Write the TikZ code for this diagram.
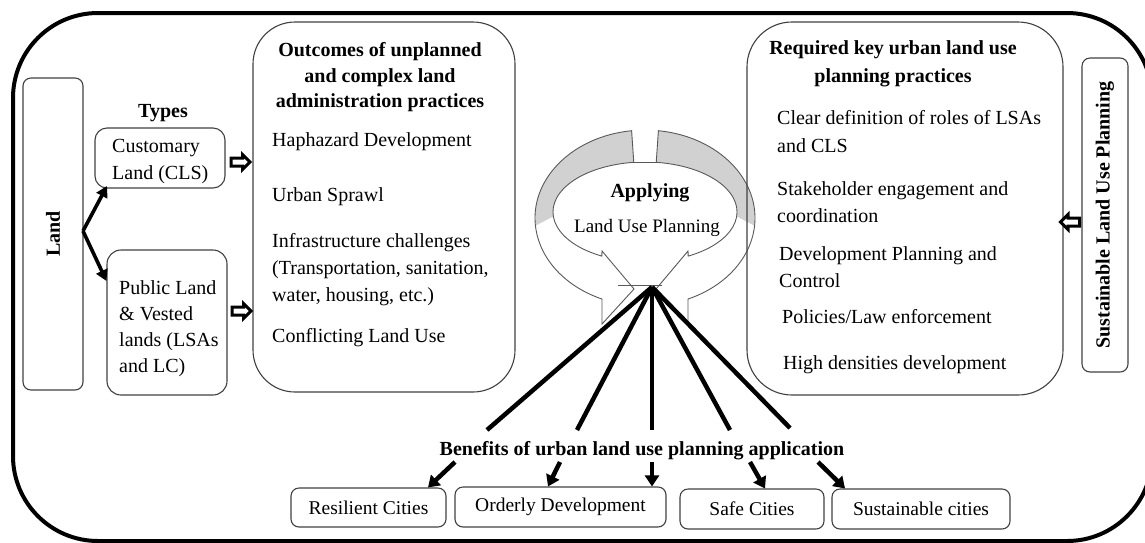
\documentclass[tikz,border=0pt]{standalone}
\usepackage{fontspec}
\setmainfont{Liberation Serif}
\usetikzlibrary{arrows.meta,shapes.arrows,calc}
\definecolor{edge}{gray}{0.25}
\definecolor{ringline}{gray}{0.35}
\definecolor{ringgray}{gray}{0.82}
\begin{document}
\begin{tikzpicture}[x=1pt,y=-1pt,
  rbox/.style={draw=edge, line width=1.1pt, rounded corners=#1, inner sep=0pt},
  rbox/.default=10pt,
  body/.style={font=\fontsize{20}{27}\selectfont, inner sep=0pt, align=left, anchor=west},
  cell/.style={font=\fontsize{19.5}{24}\selectfont, inner sep=0pt},
  head/.style={font=\bfseries\fontsize{20}{25.5}\selectfont, inner sep=0pt, align=center},
  hollow/.style={single arrow, draw=black, fill=white, line width=3pt,
    inner xsep=0pt, inner ysep=2.5pt, minimum height=19pt, minimum width=12pt,
    single arrow head extend=3.5pt},
  thickarrow/.style={line width=3.6pt, -{Triangle[length=11pt,width=12pt]}},
  spoke/.style={line width=4.5pt},
  benefit/.style={line width=4.5pt, -{Triangle[length=11pt,width=14pt]}},
  ringedge/.style={draw=ringline, line width=0.9pt, line join=miter},
]
\useasboundingbox (0,0) rectangle (1145,542);
\clip (0,0) rectangle (1145,542);

% outer frame
\draw[line width=4pt, rounded corners=85pt] (13,13) rectangle (1152,541);

% ---------------- left column ----------------
\node[rbox=8pt, minimum width=60pt, minimum height=312pt] (land) at (53,234) {};
\node[head, rotate=90] (landtxt) at (land.center) {Land};

\node[head] (types) at (163,113) {Types};

\node[rbox=12pt, minimum width=130pt, minimum height=60pt] (cls) at (160,158) {};
\node[body] (clstxt) at (112,162) {Customary\\Land (CLS)};

\node[rbox=14pt, minimum width=120pt, minimum height=145pt] (pub) at (167,322.5) {};
\node[body, font=\fontsize{20}{26}\selectfont] (pubtxt) at (119,329) {Public Land\\\& Vested\\lands (LSAs\\and LC)};

\coordinate (fork) at (83,231);
\draw[thickarrow] (fork) -- (107,186);
\draw[thickarrow] (fork) -- (pub.west |- 0,281);

% ---------------- outcomes ----------------
\node[rbox=42pt, minimum width=262pt, minimum height=370pt] (out) at (384,207) {};
\node[head] (outhead) at (380,77.5) {Outcomes of unplanned\\and complex land\\administration practices};
\node[body] (o1) at (272,142) {Haphazard Development};
\node[body] (o2) at (272,197) {Urban Sprawl};
\node[body] (o3) at (272,270) {Infrastructure challenges\\(Transportation, sanitation,\\water, housing, etc.)};
\node[body] (o4) at (272,338) {Conflicting Land Use};

\node[hollow] (h1) at (238.5,162) {};
\node[hollow] (h2) at (239.5,311) {};

% ---------------- central cycle ----------------
\begin{scope}
  \path[fill=white] (631.6,130.7) arc[start angle=263, end angle=113, x radius=110, y radius=88]
    -- (602,324) -- (634,289) -- (602,251) -- (601.8,256.1)
    arc[start angle=118, end angle=263, x radius=92, y radius=50] -- cycle;
  \fill[ringgray] (631.6,130.7) arc[start angle=263, end angle=175, x radius=110, y radius=88]
    -- (553.3,216.4) arc[start angle=175, end angle=263, x radius=92, y radius=50] -- cycle;
  \draw[ringedge] (631.6,130.7) arc[start angle=263, end angle=113, x radius=110, y radius=88]
    -- (602,324) -- (634,289) -- (602,251) -- (601.8,256.1)
    arc[start angle=118, end angle=263, x radius=92, y radius=50] -- cycle;
\end{scope}
\begin{scope}[xshift=1290pt, xscale=-1]
  \path[fill=white] (631.6,130.7) arc[start angle=263, end angle=113, x radius=110, y radius=88]
    -- (602,324) -- (634,289) -- (602,251) -- (601.8,256.1)
    arc[start angle=118, end angle=263, x radius=92, y radius=50] -- cycle;
  \fill[ringgray] (631.6,130.7) arc[start angle=263, end angle=175, x radius=110, y radius=88]
    -- (553.3,216.4) arc[start angle=175, end angle=263, x radius=92, y radius=50] -- cycle;
  \draw[ringedge] (631.6,130.7) arc[start angle=263, end angle=113, x radius=110, y radius=88]
    -- (602,324) -- (634,289) -- (602,251) -- (601.8,256.1)
    arc[start angle=118, end angle=263, x radius=92, y radius=50] -- cycle;
\end{scope}
\draw[ringedge] (633.8,162.4) -- (656.2,162.4);
\draw[ringedge] (618,285) -- (662,285);

\node[head] (apply) at (650,193) {Applying};
\node[cell, font=\fontsize{19}{24}\selectfont] (lup) at (647,228) {Land Use Planning};

% ---------------- spokes and benefits ----------------
\coordinate (hub) at (652,287);
\coordinate (f1) at (487,430);
\coordinate (f2) at (577,430);
\coordinate (f3) at (652,430);
\coordinate (f4) at (730,430);
\coordinate (f5) at (790,428);
\foreach \f in {f1,f2,f3,f4,f5} \draw[spoke] (hub) -- (\f);

\node[head] (ben) at (642,451) {Benefits of urban land use planning application};

\node[rbox=8pt, minimum width=155pt, minimum height=39pt] (res) at (368.5,507.5) {};
\node[cell] (restxt) at (res.center) {Resilient Cities};
\node[rbox=8pt, minimum width=211pt, minimum height=40pt] (ord) at (560.5,507) {};
\node[cell] (ordtxt) at (ord.center) {Orderly Development};
\node[rbox=8pt, minimum width=144pt, minimum height=40pt] (safe) at (752,509) {};
\node[cell] (safetxt) at (safe.center) {Safe Cities};
\node[rbox=8pt, minimum width=178pt, minimum height=40pt] (sus) at (921,509) {};
\node[cell] (sustxt) at (sus.center) {Sustainable cities};

\coordinate (s1) at (455,462);
\coordinate (s2) at (560,462);
\coordinate (s3) at (652,462);
\coordinate (s4) at (750,462);
\coordinate (s5) at (818,462);
\draw[benefit] (s1) -- (res.north -| 428,0);
\draw[benefit] (s2) -- (ord.north -| 548,0);
\draw[benefit] (s3) -- (ord.north -| 652,0);
\draw[benefit] (s4) -- (safe.north -| 765,0);
\draw[benefit] (s5) -- (sus.north -| 845,0);

% ---------------- required practices ----------------
\node[rbox=45pt, minimum width=316pt, minimum height=373pt] (req) at (905,208.5) {};
\node[head, font=\bfseries\fontsize{20}{28}\selectfont] (reqhead) at (893,64) {Required key urban land use\\planning practices};
\node[body, font=\fontsize{20}{28}\selectfont] (r1) at (777,132) {Clear definition of roles of LSAs\\and CLS};
\node[body] (r2) at (777,202) {Stakeholder engagement and\\coordination};
\node[body] (r3) at (779,267) {Development Planning and\\Control};
\node[body] (r4) at (782,317) {Policies/Law enforcement};
\node[body] (r5) at (783,365) {High densities development};

\node[rbox=8pt, minimum width=46pt, minimum height=314pt] (slup) at (1105,215) {};
\node[head, rotate=90] (sluptxt) at (slup.center) {Sustainable Land Use Planning};
\node[hollow, shape border rotate=180] (h3) at (1072,222) {};

\end{tikzpicture}
\end{document}
